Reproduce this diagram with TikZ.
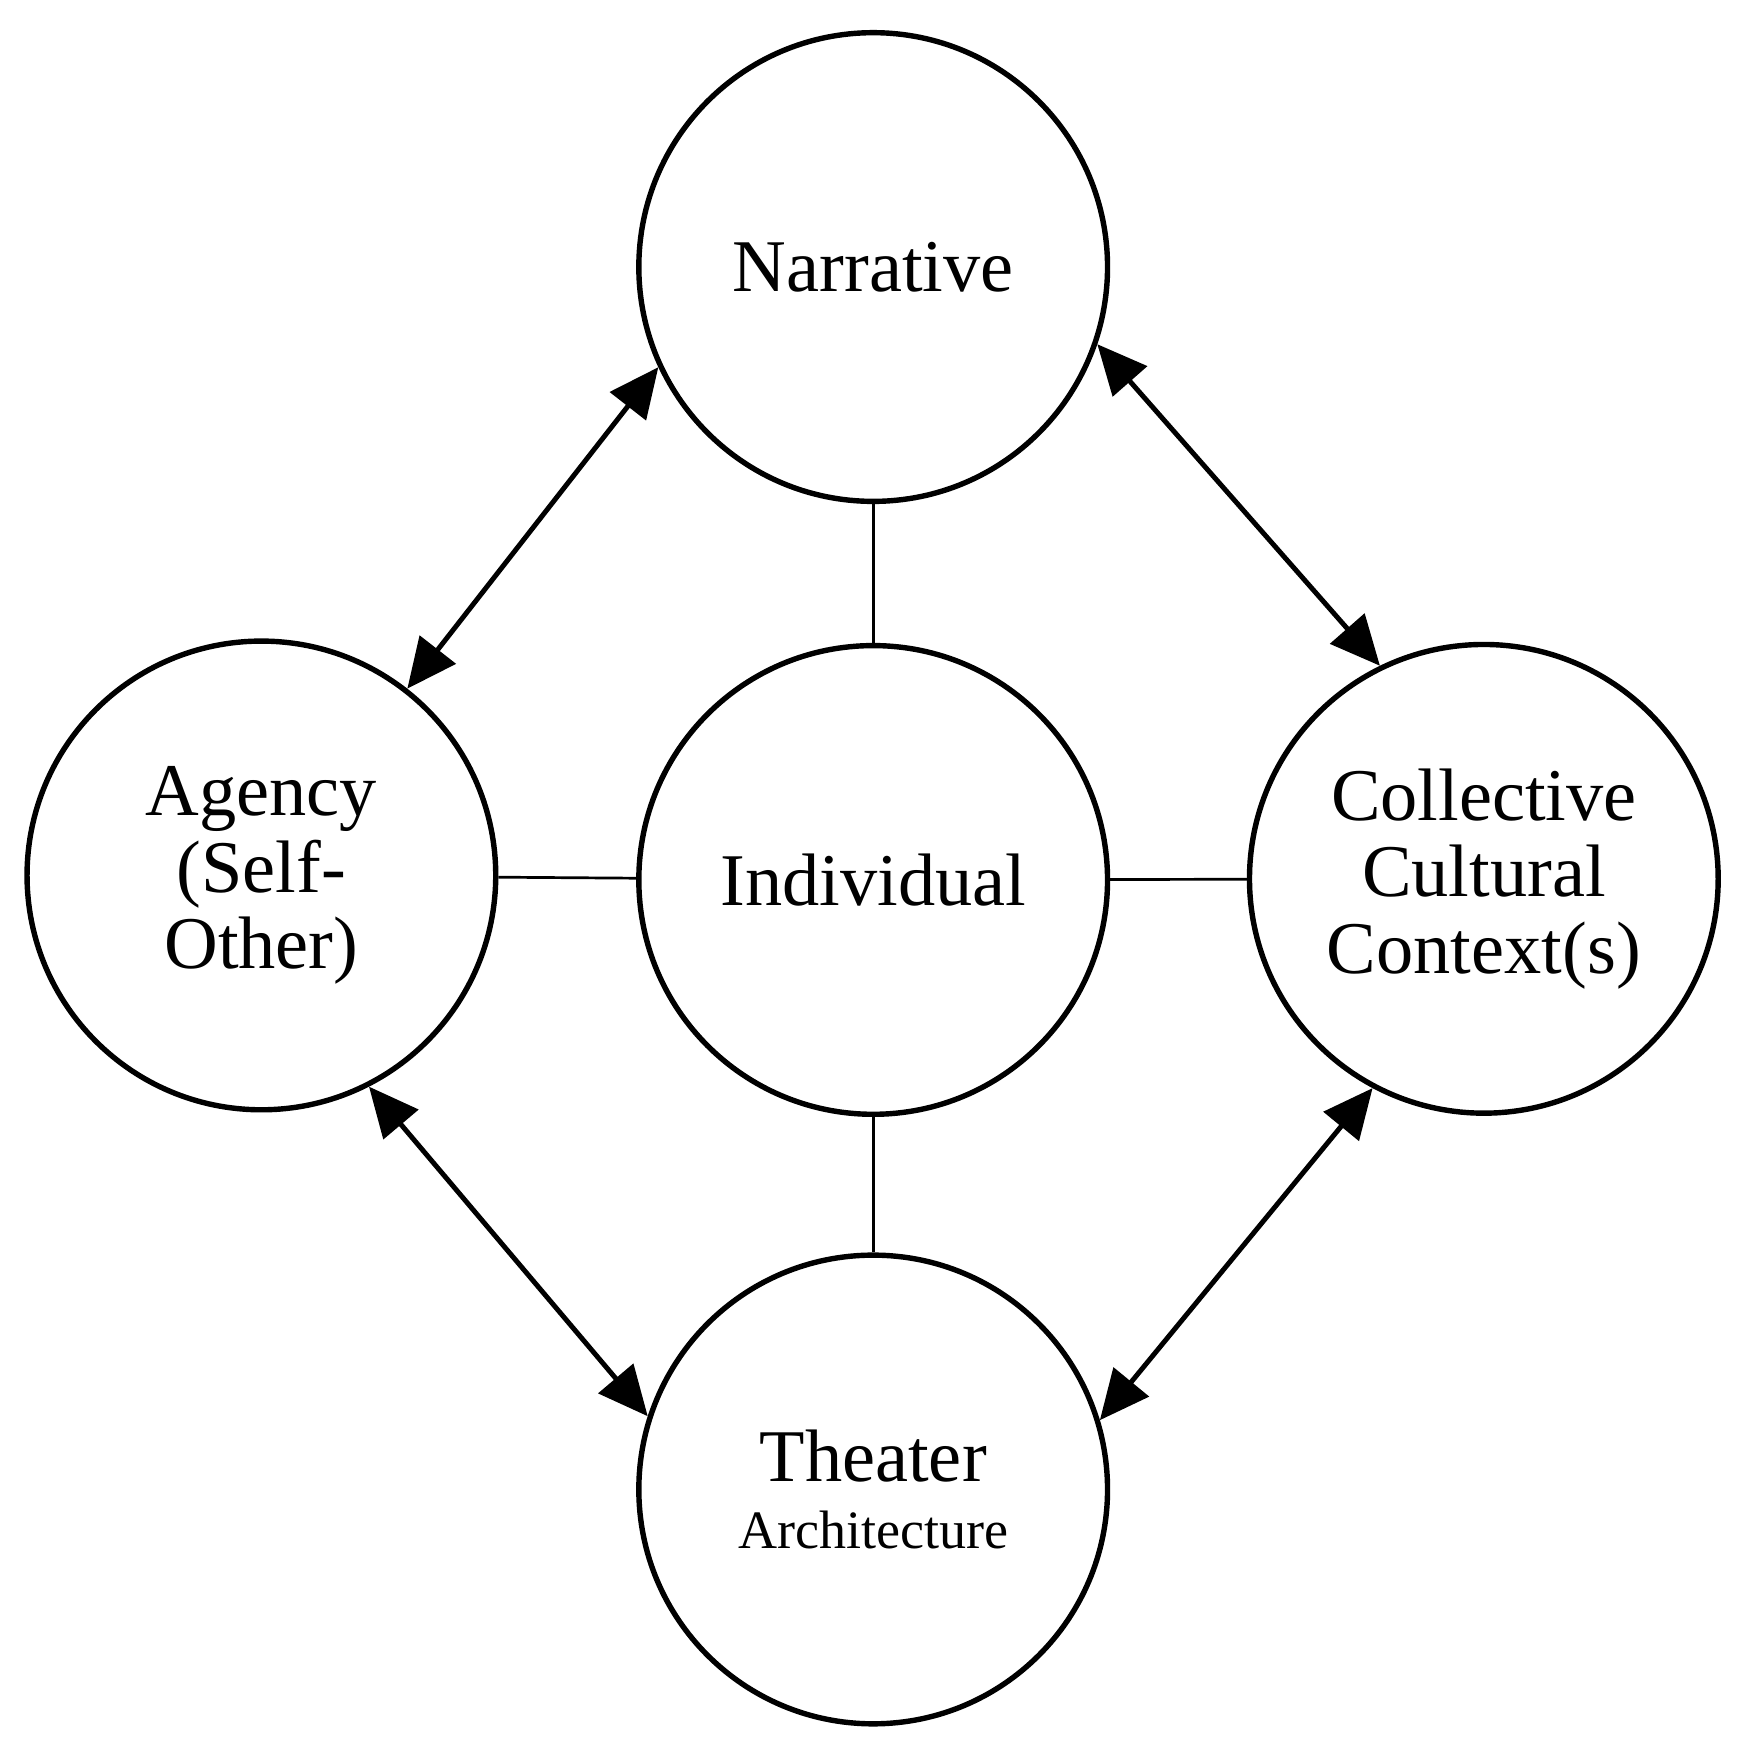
\documentclass[tikz,border=0pt]{standalone}
\usepackage{fontspec}
\setmainfont{Liberation Serif}
\usetikzlibrary{arrows.meta}
\begin{document}
\begin{tikzpicture}[x=0.5pt,y=-0.5pt,
  circ/.style={circle,draw,line width=2.4pt,minimum size=208pt,inner sep=0pt,align=center,font=\fontsize{33}{34}\selectfont},
  link/.style={line width=1.2pt},
  dbl/.style={line width=2.2pt,{Triangle[length=22pt,width=20pt]}-{Triangle[length=22pt,width=20pt]}}]
\useasboundingbox (0,0) rectangle (1553,1563);
\node[circ] (N) at (775,237) {Narrative};
\node[circ] (I) at (775,781) {Individual};
\node[circ] (A) at (232,777) {Agency\\(Self-\\Other)};
\node[circ] (C) at (1317,780) {Collective\\Cultural\\Context(s)};
\node[circ] (T) at (775,1322) {Theater\\[-4pt]{\fontsize{24}{26}\selectfont Architecture}};
\draw[link] (N) -- (I);
\draw[link] (I) -- (T);
\draw[link] (A) -- (I);
\draw[link] (I) -- (C);
\draw[dbl] (N.-155) -- (A.52);
\draw[dbl] (N.-19) -- (C.116);
\draw[dbl] (A.-63) -- (T.162);
\draw[dbl] (C.-118) -- (T.17);
\end{tikzpicture}
\end{document}
